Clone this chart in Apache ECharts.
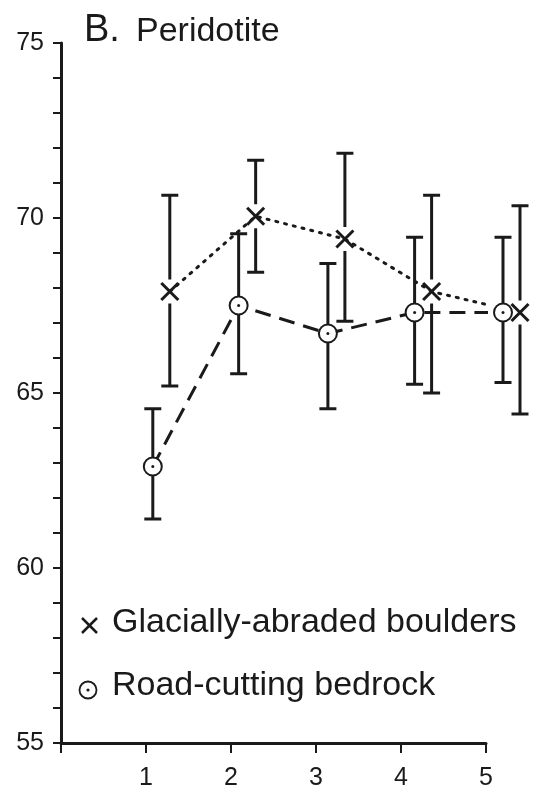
<!DOCTYPE html>
<html>
<head>
<meta charset="utf-8">
<script src="https://cdn.jsdelivr.net/npm/echarts@6/dist/echarts.min.js"></script>
<style>
  html, body { margin: 0; padding: 0; background: #fff; }
  #chart { width: 539px; height: 794px; }
</style>
</head>
<body>
<div id="chart"></div>
<script>
var seriesNames = ['Glacially-abraded boulders', 'Road-cutting bedrock']
var xTicks = [1, 2, 3, 4, 5]
var yTicks = [55, 60, 65, 70, 75]

// glacially-abraded boulders (x markers), plotted a little to the right
var boulderX = [1.28, 2.29, 3.34, 4.36, 5.40]
var boulderY = [67.9, 70.05, 69.4, 67.9, 67.3]
var boulderLow = [65.2, 68.45, 67.05, 65.0, 64.4]
var boulderHigh = [70.65, 71.65, 71.85, 70.65, 70.35]

// road-cutting bedrock (dotted circles)
var bedrockX = [1.08, 2.09, 3.14, 4.16, 5.20]
var bedrockY = [62.9, 67.5, 66.7, 67.3, 67.3]
var bedrockLow = [61.4, 65.55, 64.55, 65.25, 65.3]
var bedrockHigh = [64.55, 69.55, 68.7, 69.45, 69.45]

var ink = '#1a1a1a'
var font = 'Liberation Sans, Arial, sans-serif'

function pack(xs, ys, lo, hi) {
  return xs.map(function (x, i) { return [x, ys[i], lo[i], hi[i]] })
}

function errorItem(kind) {
  return function (params, api) {
    var p = api.coord([api.value(0), api.value(1)])
    var lo = api.coord([api.value(0), api.value(2)])
    var hi = api.coord([api.value(0), api.value(3)])
    var gap = kind === 'cross' ? 12 : 9
    var cap = 8.5
    var line = { stroke: ink, lineWidth: 3 }
    var kids = [
      { type: 'line', shape: { x1: p[0], y1: hi[1], x2: p[0], y2: p[1] - gap }, style: line },
      { type: 'line', shape: { x1: p[0], y1: p[1] + gap, x2: p[0], y2: lo[1] }, style: line },
      { type: 'line', shape: { x1: p[0] - cap, y1: hi[1], x2: p[0] + cap, y2: hi[1] }, style: line },
      { type: 'line', shape: { x1: p[0] - cap, y1: lo[1], x2: p[0] + cap, y2: lo[1] }, style: line }
    ]
    if (kind === 'cross') {
      var s = 8.5
      kids.push({ type: 'line', shape: { x1: p[0] - s, y1: p[1] - s, x2: p[0] + s, y2: p[1] + s }, style: { stroke: ink, lineWidth: 3 } })
      kids.push({ type: 'line', shape: { x1: p[0] - s, y1: p[1] + s, x2: p[0] + s, y2: p[1] - s }, style: { stroke: ink, lineWidth: 3 } })
    } else {
      kids.push({ type: 'circle', shape: { cx: p[0], cy: p[1], r: 9 }, style: { fill: '#fff', stroke: ink, lineWidth: 2 } })
      kids.push({ type: 'circle', shape: { cx: p[0], cy: p[1], r: 1.5 }, style: { fill: ink } })
    }
    return { type: 'group', children: kids }
  }
}

var chart = echarts.init(document.getElementById('chart'))
var option = {
  animation: false,
  grid: { left: 61, right: 53, top: 43, bottom: 51 },
  xAxis: {
    type: 'value',
    min: 0,
    max: 5,
    interval: 1,
    axisLine: { lineStyle: { color: ink, width: 3 } },
    axisTick: { length: 10, lineStyle: { color: ink, width: 2 } },
    axisLabel: {
      color: ink, fontSize: 25, fontFamily: font, margin: 23,
      formatter: function (v) { return xTicks.indexOf(v) >= 0 ? String(v) : '' }
    },
    splitLine: { show: false }
  },
  yAxis: {
    type: 'value',
    min: 55,
    max: 75,
    interval: 1,
    axisLine: { show: true, lineStyle: { color: ink, width: 3 } },
    axisTick: { length: 8, lineStyle: { color: ink, width: 2 } },
    axisLabel: {
      color: ink, fontSize: 25, fontFamily: font, margin: 17,
      formatter: function (v) { return yTicks.indexOf(v) >= 0 ? String(v) : '' }
    },
    splitLine: { show: false }
  },
  graphic: [
    { type: 'text', left: 84, top: 12, style: { text: 'B.', fontSize: 38, fontFamily: font, fill: ink } },
    { type: 'text', left: 136, top: 15, style: { text: 'Peridotite', fontSize: 34, fontFamily: font, fill: ink } },
    { type: 'line', shape: { x1: 82, y1: 618, x2: 97, y2: 633 }, style: { stroke: ink, lineWidth: 2.5 } },
    { type: 'line', shape: { x1: 82, y1: 633, x2: 97, y2: 618 }, style: { stroke: ink, lineWidth: 2.5 } },
    { type: 'text', left: 112, top: 606, style: { text: seriesNames[0], fontSize: 34, fontFamily: font, fill: ink } },
    { type: 'circle', shape: { cx: 88, cy: 690, r: 8.5 }, style: { fill: '#fff', stroke: ink, lineWidth: 1.8 } },
    { type: 'circle', shape: { cx: 88, cy: 690, r: 1.6 }, style: { fill: ink } },
    { type: 'text', left: 112, top: 669, style: { text: seriesNames[1], fontSize: 34, fontFamily: font, fill: ink } }
  ],
  series: [
    {
      name: seriesNames[0],
      type: 'line',
      data: boulderX.map(function (x, i) { return [x, boulderY[i]] }),
      symbol: 'none',
      clip: false,
      lineStyle: { color: ink, width: 3, type: [2, 7], cap: 'round' },
      z: 1
    },
    {
      name: seriesNames[1],
      type: 'line',
      data: bedrockX.map(function (x, i) { return [x, bedrockY[i]] }),
      symbol: 'none',
      clip: false,
      lineStyle: { color: ink, width: 3, type: [16, 9] },
      z: 1
    },
    {
      type: 'custom',
      clip: false,
      renderItem: errorItem('cross'),
      data: pack(boulderX, boulderY, boulderLow, boulderHigh),
      z: 3
    },
    {
      type: 'custom',
      clip: false,
      renderItem: errorItem('circle'),
      data: pack(bedrockX, bedrockY, bedrockLow, bedrockHigh),
      z: 3
    }
  ]
}
chart.setOption(option)
</script>
</body>
</html>
